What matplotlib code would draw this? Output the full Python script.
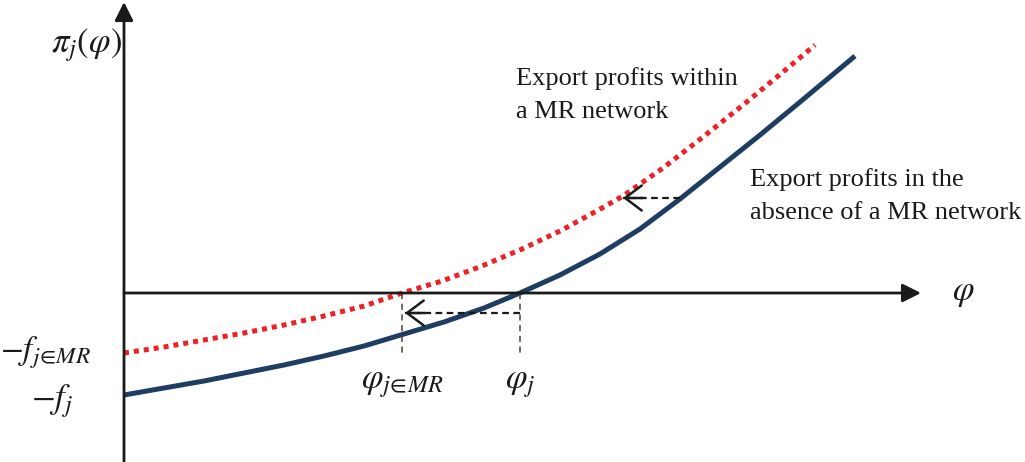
import matplotlib
matplotlib.use("Agg")
import matplotlib.pyplot as plt

# ---------------------------------------------------------------
# Datos (unidades del diagrama, origen en el cruce de los ejes)
# ---------------------------------------------------------------
phi_sin_red = [0, 0.40, 0.80, 1.20, 1.60, 2.00, 2.40, 2.80, 3.20, 3.60, 3.96,
               4.36, 4.76, 5.16, 5.56, 5.96, 6.36, 6.76, 7.31]
pi_sin_red = [-1.02, -0.95, -0.88, -0.80, -0.72, -0.63, -0.53, -0.41, -0.29, -0.15, 0,
              0.18, 0.39, 0.64, 0.94, 1.26, 1.58, 1.91, 2.37]

phi_con_red = [0, 0.40, 0.80, 1.20, 1.60, 2.00, 2.40, 2.78, 3.18, 3.58, 3.98,
               4.38, 4.78, 4.99, 5.39, 5.79, 6.19, 6.59, 6.91]
pi_con_red = [-0.60, -0.54, -0.47, -0.40, -0.32, -0.23, -0.13, 0, 0.12, 0.27, 0.44,
              0.63, 0.85, 0.97, 1.25, 1.56, 1.88, 2.21, 2.48]

phi_umbral_mr = 2.78   # corte de la curva roja
phi_umbral = 3.96      # corte de la curva azul

lineas_mr = ["Export profits within", "a MR network"]
lineas_sin = ["Export profits in the", "absence of a MR network"]

azul = "#1f3d63"
rojo = "#ee2127"
negro = "#1a1a1a"

plt.rcParams["mathtext.fontset"] = "stix"

fig = plt.figure(figsize=(10.25, 4.62), dpi=100)
ax = fig.add_axes([0, 0, 1, 1])
ax.set_xlim(-1.24, 9.01)
ax.set_ylim(-1.69, 2.93)
ax.axis("off")

# Ejes con flecha
ax.annotate("", xy=(0, 2.91), xytext=(0, -1.69),
            arrowprops=dict(arrowstyle="-|>", color=negro, lw=2, mutation_scale=28,
                            shrinkA=0, shrinkB=0))
ax.annotate("", xy=(7.97, 0), xytext=(0, 0),
            arrowprops=dict(arrowstyle="-|>", color=negro, lw=2, mutation_scale=28,
                            shrinkA=0, shrinkB=0))

# Curvas
ax.plot(phi_sin_red, pi_sin_red, color=azul, lw=3.6, solid_capstyle="butt",
        solid_joinstyle="round")
ax.plot(phi_con_red, pi_con_red, color=rojo, lw=3.6, linestyle=(0, (1, 1)),
        dash_capstyle="butt")

# Lineas punteadas verticales
for x0 in [phi_umbral_mr, phi_umbral]:
    ax.plot([x0, x0], [0, -0.62], color="#444444", lw=1.1, linestyle=(0, (4, 3)))


def flecha(x_ini, x_fin, y):
    # tramo punteado + punta abierta solida
    ax.plot([x_ini, x_fin], [y, y], color=negro, lw=1.6, linestyle=(0, (3, 2)))
    ax.annotate("", xy=(x_fin, y), xytext=(x_fin + 0.2, y),
                arrowprops=dict(arrowstyle="->,head_length=0.6,head_width=0.45",
                                color=negro, lw=1.8, mutation_scale=20,
                                shrinkA=0, shrinkB=0))


flecha(phi_umbral, phi_umbral_mr + 0.03, -0.20)
flecha(5.56, 4.99, 0.95)

# Etiquetas
ax.text(-0.02, 2.48, r"$\pi_j(\varphi)$", fontsize=25, ha="right", va="center", color=negro)
ax.text(8.39, 0.01, r"$\varphi$", fontsize=25, ha="center", va="center", color=negro)
ax.text(-0.33, -0.60, r"$-f_{j\!\in\!MR}$", fontsize=24, ha="right", va="center", color=negro)
ax.text(-0.51, -1.08, r"$-f_j$", fontsize=25, ha="right", va="center", color=negro)
ax.text(phi_umbral_mr, -0.90, r"$\varphi_{j\!\in\!MR}$", fontsize=25, ha="center", va="center", color=negro)
ax.text(phi_umbral, -0.90, r"$\varphi_j$", fontsize=25, ha="center", va="center", color=negro)

# Textos de las curvas, una linea cada vez
for i, linea in enumerate(lineas_mr):
    ax.text(3.92, 2.14 - 0.33 * i, linea, fontsize=19, family="Liberation Serif",
            ha="left", va="center", color=negro)
for i, linea in enumerate(lineas_sin):
    ax.text(6.26, 1.13 - 0.33 * i, linea, fontsize=19, family="Liberation Serif",
            ha="left", va="center", color=negro)

fig.savefig("out.png", dpi=100)
